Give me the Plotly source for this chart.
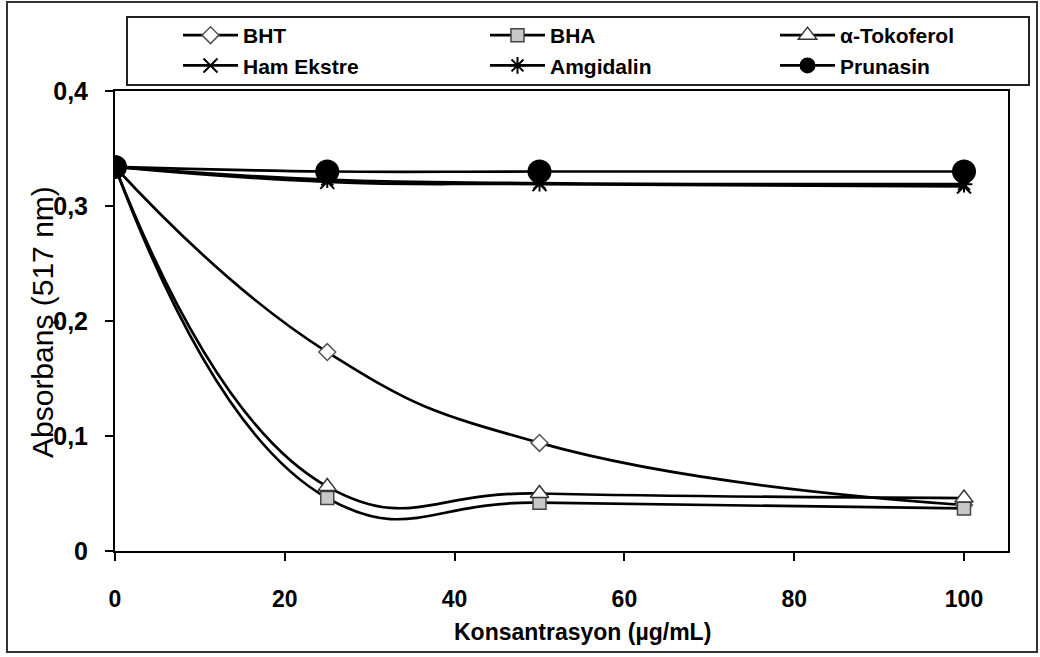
import plotly.graph_objects as go

# Concentrations (µg/mL)
konsantrasyon = [0, 25, 50, 100]

# Absorbance at 517 nm for each sample
bht = [0.334, 0.173, 0.094, 0.040]
bha = [0.334, 0.046, 0.042, 0.037]
tokoferol = [0.334, 0.056, 0.050, 0.046]
ham_ekstre = [0.334, 0.321, 0.319, 0.317]
amgidalin = [0.334, 0.323, 0.320, 0.319]
prunasin = [0.334, 0.330, 0.330, 0.330]

x_ticks = [0, 20, 40, 60, 80, 100]
y_ticks = [0, 0.1, 0.2, 0.3, 0.4]
y_tick_text = ["0", "0,1", "0,2", "0,3", "0,4"]

FONT = "Liberation Sans, Arial, sans-serif"
W, H = 1040, 657
L, R, T, B = 115, 32, 91, 106
PW, PH = W - L - R, H - T - B


def px_x(p):
    return (p - L) / PW


def px_y(p):
    return (H - B - p) / PH


fig = go.Figure()

line_style = dict(color="black", width=2.7, shape="spline", smoothing=1.3)

# (name, values, marker, legend column)
series = [
    ("BHT", bht, dict(symbol="diamond", size=13, color="white",
                      line=dict(color="#555555", width=1.5)), "legend"),
    ("BHA", bha, dict(symbol="square", size=13, color="#c8c8c8",
                      line=dict(color="#444444", width=1.5)), "legend2"),
    ("α-Tokoferol", tokoferol, dict(symbol="triangle-up", size=16, color="white",
                                    line=dict(color="#333333", width=1.5)), "legend3"),
    ("Ham Ekstre", ham_ekstre, dict(symbol="x-thin-open", size=14,
                                    line=dict(color="black", width=2)), "legend"),
    ("Amgidalin", amgidalin, dict(symbol="asterisk-open", size=14,
                                  line=dict(color="black", width=2)), "legend2"),
    ("Prunasin", prunasin, dict(symbol="circle", size=24, color="black",
                                line=dict(color="black", width=0)), "legend3"),
]

for name, ys, marker, leg in series:
    fig.add_trace(go.Scatter(
        x=konsantrasyon, y=ys, name=name, mode="lines+markers",
        line=line_style, marker=marker, legend=leg,
    ))

axis_common = dict(
    showgrid=False, zeroline=False, showline=True, linecolor="black",
    linewidth=2, mirror=True, ticks="outside", ticklen=8, tickwidth=1.5,
    tickcolor="black",
)

fig.update_xaxes(range=[0, PW / 8.49], tickvals=x_ticks, ticklabelstandoff=18,
                 tickfont=dict(family=FONT, size=23, color="black", weight="bold"),
                 **axis_common)
fig.update_yaxes(range=[0, 0.4], tickvals=y_ticks, ticktext=y_tick_text,
                 ticklabelstandoff=12,
                 tickfont=dict(family=FONT, size=25, color="black", weight="bold"),
                 **axis_common)

# Outer frame of the chart
fig.add_shape(type="rect", xref="paper", yref="paper",
              x0=px_x(7), x1=px_x(1037), y0=px_y(652), y1=px_y(2),
              line=dict(color="#333333", width=2), layer="below")

# Legend frame
fig.add_shape(type="rect", xref="paper", yref="paper",
              x0=px_x(127), x1=px_x(1029), y0=px_y(85), y1=px_y(17),
              line=dict(color="#222222", width=2), fillcolor="white",
              layer="below")

fig.add_annotation(text="Konsantrasyon (µg/mL)", xref="paper", yref="paper",
                   x=px_x(582), y=px_y(632), showarrow=False,
                   xanchor="center", yanchor="middle",
                   font=dict(family=FONT, size=23, color="black", weight="bold"))
fig.add_annotation(text="Absorbanş (517 nm)", xref="paper", yref="paper",
                   x=px_x(42), y=px_y(322), showarrow=False, textangle=-90,
                   xanchor="center", yanchor="middle",
                   font=dict(family=FONT, size=30, color="black"))

legend_common = dict(
    orientation="v", xanchor="left", yanchor="top", y=px_y(15),
    itemwidth=55, borderwidth=0, bgcolor="rgba(0,0,0,0)", tracegroupgap=0,
    font=dict(family=FONT, size=21, color="black", weight="bold"),
)

fig.update_layout(
    width=W, height=H,
    margin=dict(l=L, r=R, t=T, b=B),
    paper_bgcolor="white", plot_bgcolor="white",
    showlegend=True,
    legend=dict(x=px_x(178), **legend_common),
    legend2=dict(x=px_x(485), **legend_common),
    legend3=dict(x=px_x(775), **legend_common),
)

fig.write_html("out.html")
